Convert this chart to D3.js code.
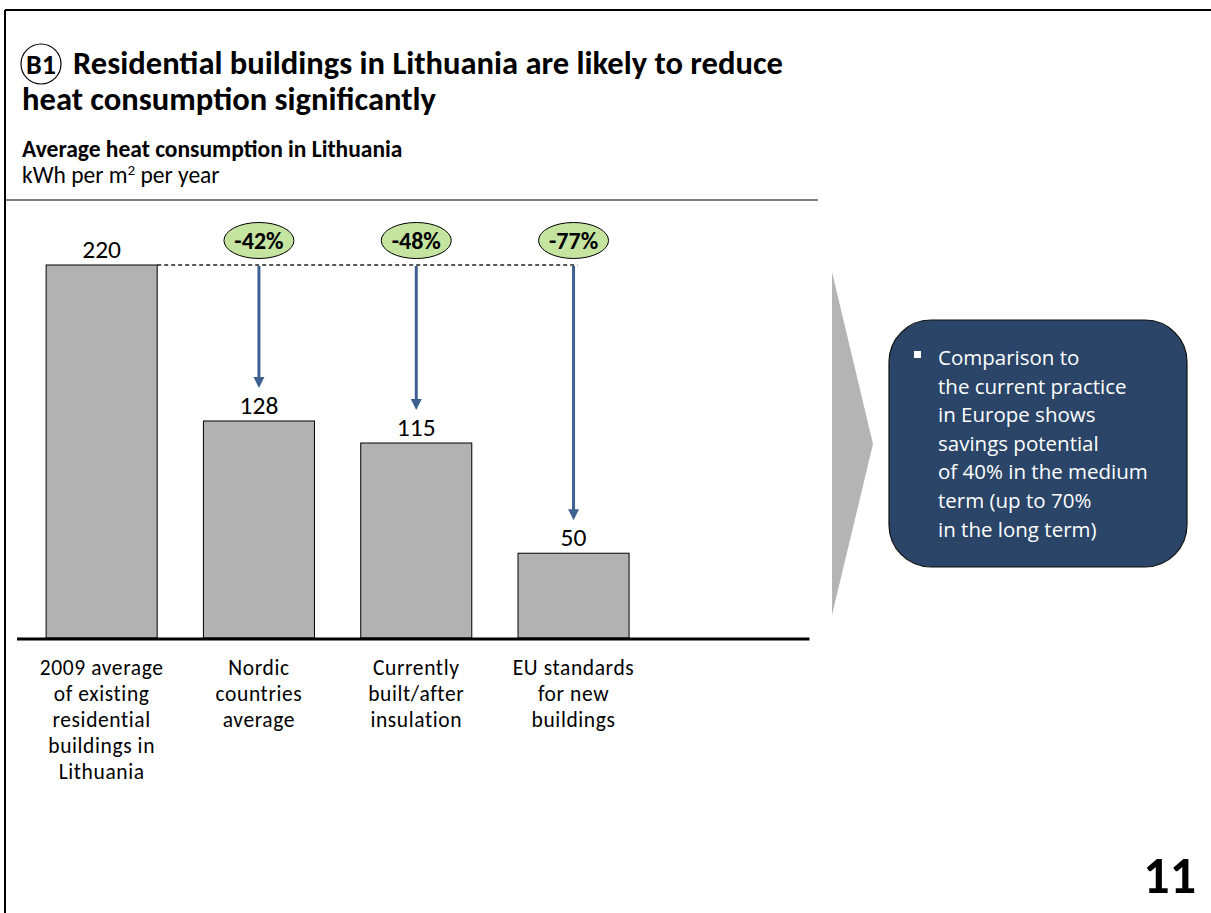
<!DOCTYPE html>
<html>
<head>
<meta charset="utf-8">
<script src="https://cdn.jsdelivr.net/npm/d3@7"></script>
<style>
  html, body { margin: 0; padding: 0; background: #fff; }
  svg { display: block; }
</style>
</head>
<body>
<svg id="chart" width="1211" height="913"></svg>
<script>
// Heat consumption, kWh per m² per year
const categories = [
  ["2009 average", "of existing", "residential", "buildings in", "Lithuania"],
  ["Nordic", "countries", "average"],
  ["Currently", "built/after", "insulation"],
  ["EU standards", "for new", "buildings"]
];
const values = [220, 128, 115, 50];
const reductions = ["-42%", "-48%", "-77%"];
const calloutLines = [
  "Comparison to",
  "the current practice",
  "in Europe shows",
  "savings potential",
  "of 40% in the medium",
  "term (up to 70%",
  "in the long term)"
];

const svg = d3.select("#chart");
const font = "Carlito, Lato, 'Liberation Sans', sans-serif";

// Page frame (top and left rules)
svg.append("line").attr("x1", 5).attr("x2", 1211).attr("y1", 10).attr("y2", 10)
  .attr("stroke", "#000").attr("stroke-width", 2);
svg.append("line").attr("x1", 5).attr("x2", 5).attr("y1", 10).attr("y2", 913)
  .attr("stroke", "#000").attr("stroke-width", 2);

// Title with badge
svg.append("circle").attr("cx", 41).attr("cy", 64).attr("r", 20)
  .attr("fill", "none").attr("stroke", "#000").attr("stroke-width", 1.2);
svg.append("text").attr("x", 41).attr("y", 74).attr("text-anchor", "middle")
  .attr("font-family", font).attr("font-weight", "bold").attr("font-size", 28)
  .text("B1");
svg.append("text").attr("x", 73).attr("y", 74)
  .attr("font-family", font).attr("font-weight", "bold").attr("font-size", 32.6)
  .text("Residential buildings in Lithuania are likely to reduce");
svg.append("text").attr("x", 22).attr("y", 110)
  .attr("font-family", font).attr("font-weight", "bold").attr("font-size", 32.6)
  .text("heat consumption significantly");

svg.append("text").attr("x", 22).attr("y", 157)
  .attr("font-family", font).attr("font-weight", "bold").attr("font-size", 23.5)
  .text("Average heat consumption in Lithuania");
const unit = svg.append("text").attr("x", 22).attr("y", 183)
  .attr("font-family", font).attr("font-size", 23.5);
unit.append("tspan").text("kWh per m");
unit.append("tspan").attr("dy", -8).attr("font-size", 15).text("2");
unit.append("tspan").attr("dy", 8).text(" per year");

svg.append("line").attr("x1", 5).attr("x2", 818).attr("y1", 200).attr("y2", 200)
  .attr("stroke", "#000").attr("stroke-width", 1);

// Scales
const baseY = 638;
const x = d3.scaleBand()
  .domain(d3.range(5))
  .range([23, 809.5])
  .paddingInner(0.294)
  .paddingOuter(0.147);
const y = d3.scaleLinear().domain([0, 220]).range([baseY, 265]);
const cx = i => x(i) + x.bandwidth() / 2;

// Bars
svg.append("g").selectAll("rect").data(values).join("rect")
  .attr("x", (d, i) => x(i))
  .attr("y", d => y(d))
  .attr("width", x.bandwidth())
  .attr("height", d => baseY - y(d))
  .attr("fill", "#b2b2b2")
  .attr("stroke", "#000")
  .attr("stroke-width", 1);

// Value labels
svg.append("g").selectAll("text").data(values).join("text")
  .attr("x", (d, i) => cx(i))
  .attr("y", d => y(d) - 7)
  .attr("text-anchor", "middle")
  .attr("font-family", font)
  .attr("font-size", 25.5)
  .text(d => d);

// Baseline
svg.append("line").attr("x1", 17).attr("x2", x.range()[1]).attr("y1", baseY + 1).attr("y2", baseY + 1)
  .attr("stroke", "#000").attr("stroke-width", 3);

// Reference level of the first bar
svg.append("line")
  .attr("x1", x(0) + x.bandwidth()).attr("x2", cx(values.length - 1) + 4)
  .attr("y1", y(values[0])).attr("y2", y(values[0]))
  .attr("stroke", "#222").attr("stroke-width", 1.3).attr("stroke-dasharray", "4,3");

// Reduction arrows
const arrowColor = "#3d6190";
const arrows = svg.append("g").selectAll("g").data(values.slice(1)).join("g");
arrows.append("line")
  .attr("x1", (d, i) => cx(i + 1)).attr("x2", (d, i) => cx(i + 1))
  .attr("y1", y(values[0]) + 1)
  .attr("y2", d => y(d) - 42)
  .attr("stroke", arrowColor).attr("stroke-width", 3);
arrows.append("path")
  .attr("d", (d, i) => {
    const xc = cx(i + 1), tip = y(d) - 33;
    return `M${xc - 5.5},${tip - 11}L${xc + 5.5},${tip - 11}L${xc},${tip}Z`;
  })
  .attr("fill", arrowColor);

// Percentage badges
const badges = svg.append("g").selectAll("g").data(reductions).join("g")
  .attr("transform", (d, i) => `translate(${cx(i + 1)},240.5)`);
badges.append("ellipse").attr("rx", 35).attr("ry", 18)
  .attr("fill", "#c4e4a0").attr("stroke", "#000").attr("stroke-width", 1);
badges.append("text").attr("y", 8.5).attr("text-anchor", "middle")
  .attr("font-family", font).attr("font-weight", "bold").attr("font-size", 24)
  .text(d => d);

// Category labels
svg.append("g").selectAll("text").data(categories).join("text")
  .attr("x", (d, i) => cx(i))
  .attr("y", 675)
  .attr("text-anchor", "middle")
  .attr("font-family", font)
  .attr("font-size", 21.5)
  .attr("letter-spacing", 0.6)
  .each(function (lines, i) {
    d3.select(this).selectAll("tspan").data(lines).join("tspan")
      .attr("x", cx(i))
      .attr("dy", (l, j) => j === 0 ? 0 : 26)
      .text(l => l);
  });

// Chevron
svg.append("path").attr("d", "M832,272L873,444L832,615Z").attr("fill", "#b4b4b4");

// Callout box
svg.append("rect").attr("x", 889).attr("y", 320).attr("width", 298).attr("height", 247)
  .attr("rx", 42).attr("ry", 42)
  .attr("fill", "#2a4568").attr("stroke", "#111").attr("stroke-width", 1.2);
svg.append("rect").attr("x", 914).attr("y", 351).attr("width", 7).attr("height", 7).attr("fill", "#fff");
svg.append("text").attr("x", 938).attr("y", 365)
  .attr("font-family", "'Open Sans', 'Noto Sans', sans-serif").attr("font-size", 20.5)
  .attr("fill", "#fff")
  .selectAll("tspan").data(calloutLines).join("tspan")
  .attr("x", 938).attr("dy", (d, i) => i === 0 ? 0 : 28.6)
  .text(d => d);

// Page number
svg.append("text").attr("x", 1196).attr("y", 893).attr("text-anchor", "end")
  .attr("font-family", font).attr("font-weight", "bold").attr("font-size", 52)
  .text("11");
</script>
</body>
</html>
